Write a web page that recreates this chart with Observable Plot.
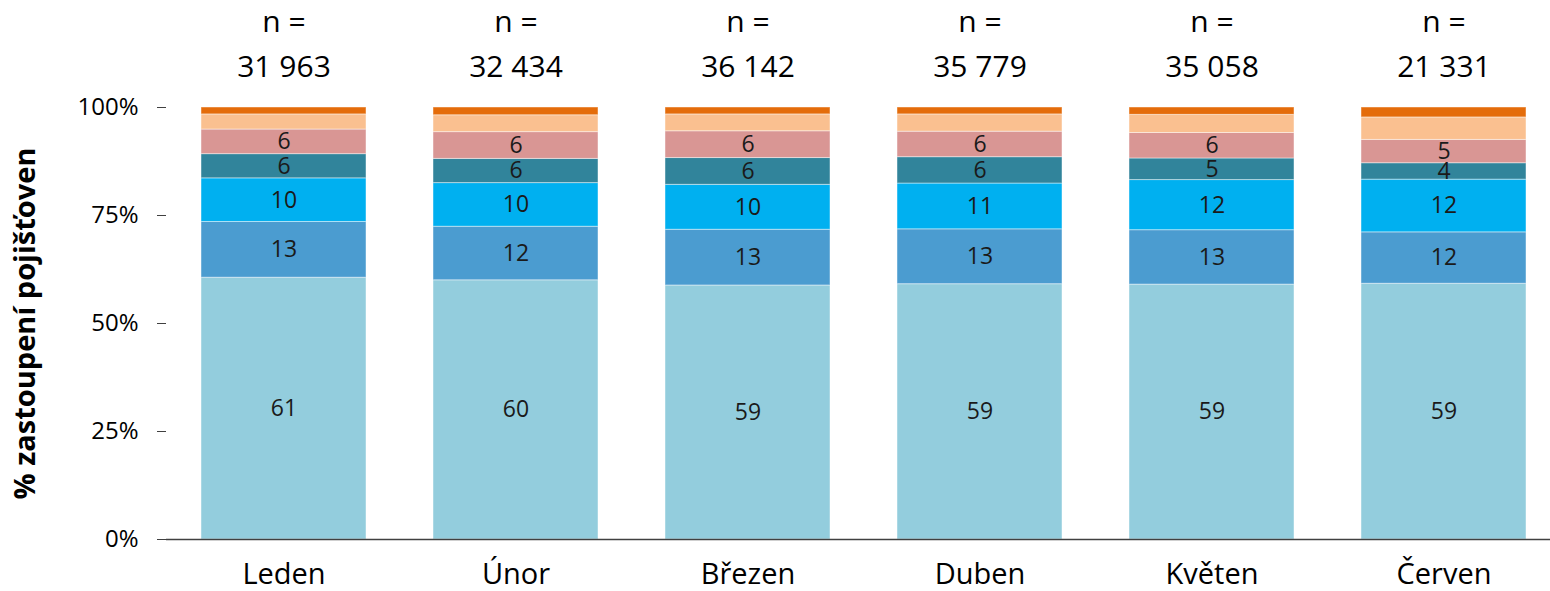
<!DOCTYPE html>
<html>
<head>
<meta charset="utf-8">
<script src="https://cdn.jsdelivr.net/npm/d3@7"></script>
<script src="https://cdn.jsdelivr.net/npm/@observablehq/plot@0.6"></script>
<style>
  html, body { margin: 0; padding: 0; background: #fff; }
  svg { font-family: "Open Sans", sans-serif; }
</style>
</head>
<body>
<div id="chart"></div>
<script>
const months = ["Leden", "Únor", "Březen", "Duben", "Květen", "Červen"];
const counts = [31963, 32434, 36142, 35779, 35058, 21331];
const seriesNames = ["S1", "S2", "S3", "S4", "S5", "S6", "S7"];
const seriesColors = ["#93CDDD", "#4B9CD0", "#00B0F0", "#31849B", "#D99694", "#FAC090", "#E46C0A"];
const s1 = [60.6, 60.0, 58.8, 59.1, 59.0, 59.2];
const s2 = [12.9, 12.4, 12.9, 12.7, 12.6, 11.9];
const s3 = [10.1, 10.1, 10.4, 10.6, 11.6, 12.2];
const s4 = [5.6, 5.6, 6.2, 6.1, 5.0, 3.8];
const s5 = [5.7, 6.2, 6.2, 5.9, 5.9, 5.4];
const s6 = [3.5, 3.9, 3.9, 4.0, 4.2, 5.2];
const s7 = [1.6, 1.8, 1.6, 1.6, 1.7, 2.3];
const seriesValues = [s1, s2, s3, s4, s5, s6, s7];
const labelledSeries = 5;

const data = [];
seriesValues.forEach((vals, si) => {
  vals.forEach((v, mi) => {
    data.push({month: months[mi], series: seriesNames[si], si, value: v});
  });
});
const nData = months.map((m, i) => ({month: m, n: counts[i]}));
const fmt = d3.formatLocale({thousands: " ", grouping: [3], decimal: ","}).format(",d");

const plot = Plot.plot({
  width: 1550,
  height: 591,
  marginTop: 107,
  marginBottom: 52,
  marginLeft: 166,
  marginRight: 0,
  style: {fontFamily: "'Open Sans', sans-serif", color: "#000", background: "#fff"},
  x: {domain: months, range: [166, 1561], paddingInner: 0.29, paddingOuter: 0.145, label: null},
  y: {domain: [0, 100], label: null},
  color: {domain: seriesNames, range: seriesColors},
  marks: [
    Plot.barY(data, Plot.stackY({x: "month", y: "value", z: "series", fill: "series",
      stroke: "#ffffff", strokeOpacity: 0.45, strokeWidth: 1})),
    Plot.text(data, Plot.stackY({x: "month", y: "value", z: "series",
      text: d => d.si < labelledSeries ? String(Math.round(d.value)) : "",
      fontSize: 23, fill: "#1a1a1a"})),
    Plot.axisY({ticks: [0, 25, 50, 75, 100], tickFormat: d => d + "%", tickSize: 9, tickPadding: 19,
      fontSize: 24, stroke: "#404040", fill: "#000", label: null, line: true}),
    Plot.axisX({tickSize: 0, tickPadding: 24, fontSize: 29, fill: "#000", label: null}),
    Plot.ruleY([0], {stroke: "#404040", strokeWidth: 1.5}),
    Plot.text(nData, {x: "month", y: 100, text: d => "n =\n" + fmt(d.n), lineAnchor: "bottom",
      dy: -31, lineHeight: 1.5, fontSize: 30, fill: "#000"}),
    Plot.text(["% zastoupení pojišťoven"], {frameAnchor: "left", rotate: -90, dx: -141,
      textAnchor: "middle", fontSize: 29, fontWeight: "bold", fill: "#000"})
  ]
});
document.getElementById("chart").appendChild(plot);
</script>
</body>
</html>
